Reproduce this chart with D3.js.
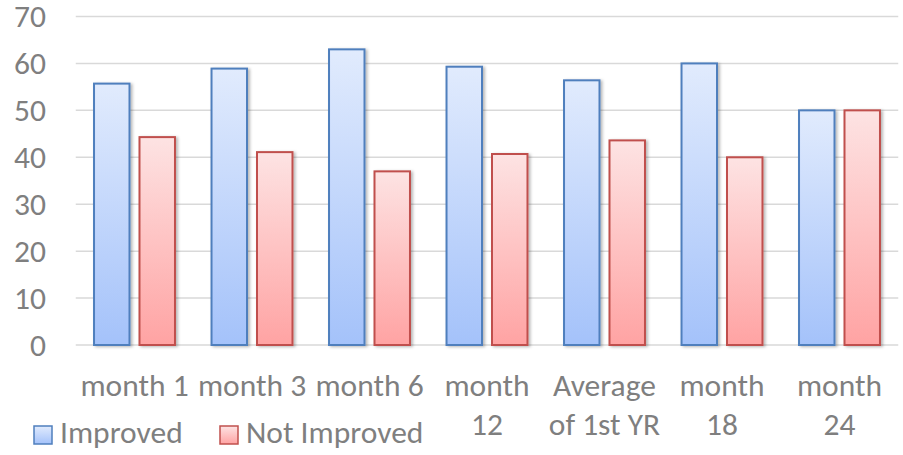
<!DOCTYPE html>
<html><head><meta charset="utf-8">
<script src="https://cdn.jsdelivr.net/npm/d3@7"></script>
<style>body{margin:0;background:#fff}svg{display:block}text{font-family:Carlito,"Open Sans",sans-serif;fill:#7f7f7f}</style>
</head><body><svg id="c" width="903" height="455"></svg>
<script>
const categories = ["month 1","month 3","month 6","month 12","Average of 1st YR","month 18","month 24"];
const labelLines = [["month 1"],["month 3"],["month 6"],["month","12"],["Average","of 1st YR"],["month","18"],["month","24"]];
const improved = [55.7, 58.9, 63.0, 59.3, 56.4, 60.0, 50.0];
const notImproved = [44.3, 41.1, 37.0, 40.7, 43.6, 40.0, 50.0];
const seriesNames = ["Improved","Not Improved"];
const yTicks = [0,10,20,30,40,50,60,70];

const FS = 31.5;
const svg = d3.select("#c");
const defs = svg.append("defs");
const grads = [
  {id:"gb", top:"#e1ebfd", bot:"#a4c2fa", stroke:"#4f7fbd"},
  {id:"gr", top:"#fde3e3", bot:"#ffa3a3", stroke:"#c0504d"}
];
grads.forEach(g=>{
  const lg = defs.append("linearGradient").attr("id",g.id).attr("x1",0).attr("y1",0).attr("x2",0).attr("y2",1);
  lg.append("stop").attr("offset","0%").attr("stop-color",g.top);
  lg.append("stop").attr("offset","100%").attr("stop-color",g.bot);
});
const f = defs.append("filter").attr("id","sh").attr("x","-20%").attr("y","-5%").attr("width","140%").attr("height","110%");
f.append("feDropShadow").attr("dx",2).attr("dy",1).attr("stdDeviation",1.6).attr("flood-color","#000").attr("flood-opacity",0.28);

const x = d3.scaleBand().domain(categories).range([75.75, 898.25]).paddingInner(0.294).paddingOuter(0.147);
const x1 = d3.scaleBand().domain([0,1]).range([0, x.bandwidth()]).paddingInner(0.176);
const y = d3.scaleLinear().domain([0,70]).range([345, 16.5]);

svg.append("g").selectAll("line").data(yTicks).join("line")
  .attr("x1",75.75).attr("x2",898.25)
  .attr("y1",d=>y(d)).attr("y2",d=>y(d))
  .attr("stroke","#d9d9d9").attr("stroke-width",1.5);

svg.append("g").selectAll("text").data(yTicks).join("text")
  .attr("x",46).attr("y",d=>y(d)).attr("dy","0.34em")
  .attr("text-anchor","end").attr("font-size",FS).text(d=>d);

const data = categories.map((c,i)=>({c, vals:[improved[i], notImproved[i]]}));
const grp = svg.append("g").selectAll("g").data(data).join("g")
  .attr("transform",d=>`translate(${x(d.c)},0)`);
grp.selectAll("rect").data(d=>d.vals.map((v,k)=>({v,k}))).join("rect")
  .attr("x",d=>x1(d.k)+1).attr("width",x1.bandwidth()-2)
  .attr("y",d=>y(d.v)).attr("height",d=>y(0)-y(d.v))
  .attr("fill",d=>`url(#${grads[d.k].id})`)
  .attr("stroke",d=>grads[d.k].stroke).attr("stroke-width",2)
  .attr("filter","url(#sh)");

const xl = svg.append("g").selectAll("text").data(categories).join("text")
  .attr("x",d=>x(d)+x.bandwidth()/2).attr("y",396)
  .attr("text-anchor","middle").attr("font-size",FS);
xl.each(function(d,i){
  const t = d3.select(this);
  labelLines[i].forEach((ln,j)=>{
    t.append("tspan").attr("x",x(d)+x.bandwidth()/2).attr("y",396+j*39).text(ln);
  });
});

const legX = [34, 220];
const leg = svg.append("g").selectAll("g").data(seriesNames).join("g")
  .attr("transform",(d,i)=>`translate(${legX[i]},0)`);
leg.append("rect").attr("x",0).attr("y",426).attr("width",18).attr("height",18)
  .attr("fill",(d,i)=>`url(#${grads[i].id})`).attr("stroke",(d,i)=>grads[i].stroke).attr("stroke-width",1.5);
leg.append("text").attr("x",26).attr("y",443).attr("font-size",FS).text(d=>d);
</script></body></html>
